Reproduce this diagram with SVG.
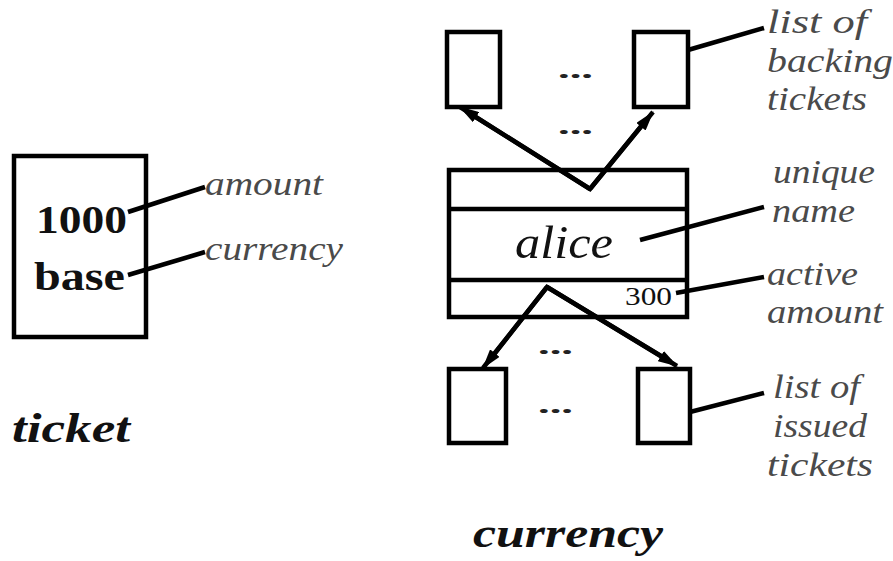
<svg xmlns="http://www.w3.org/2000/svg" width="893" height="561" viewBox="0 0 893 561">
  <style>
    .box { fill: none; stroke: #000; stroke-width: 4.5; }
    .lead { fill: none; stroke: #000; stroke-width: 4.5; stroke-linecap: butt; }
    .arrow { fill: none; stroke: #000; stroke-width: 4.5; marker-end: url(#head); }
    .label { font-family: "Liberation Serif", "Times New Roman", serif; font-style: italic; font-size: 34px; fill: #4a4a4a; }
    .value { font-family: "Liberation Serif", "Times New Roman", serif; font-weight: bold; font-size: 41px; fill: #111; }
    .title { font-family: "Liberation Serif", "Times New Roman", serif; font-weight: bold; font-style: italic; font-size: 42px; fill: #111; }
    .dots { font-family: "Liberation Serif", "Times New Roman", serif; font-weight: bold; font-size: 26px; fill: #222; }
  </style>
  <defs>
    <marker id="head" viewBox="0 0 20 12" refX="19" refY="6" markerWidth="20" markerHeight="12" markerUnits="userSpaceOnUse" orient="auto">
      <path d="M0,0 L20,6 L0,12 z" fill="#000"/>
    </marker>
  </defs>
  <rect width="893" height="561" fill="#fff"/>

  <!-- ticket record -->
  <g id="ticket">
    <rect class="box" x="14" y="156" width="132" height="181"/>
    <text class="value" x="36" y="233" textLength="91" lengthAdjust="spacingAndGlyphs">1000</text>
    <text class="value" x="34" y="290" textLength="91" lengthAdjust="spacingAndGlyphs">base</text>
    <text class="label" x="205" y="195" textLength="118" lengthAdjust="spacingAndGlyphs">amount</text>
    <text class="label" x="205" y="260" textLength="138" lengthAdjust="spacingAndGlyphs">currency</text>
    <text class="title" x="12" y="442" textLength="118" lengthAdjust="spacingAndGlyphs">ticket</text>
  </g>

  <!-- backing tickets -->
  <g id="backing-first">
    <rect class="box" x="447" y="32" width="53" height="75"/>
  </g>
  <g id="backing-last">
    <rect class="box" x="634" y="32" width="54" height="75"/>
  </g>
  <g id="backing-label">
    <text class="label" x="767" y="33" textLength="100" lengthAdjust="spacingAndGlyphs">list of</text>
    <text class="label" x="767" y="72" textLength="126" lengthAdjust="spacingAndGlyphs">backing</text>
    <text class="label" x="767" y="110" textLength="100" lengthAdjust="spacingAndGlyphs">tickets</text>
  </g>
  <g id="backing-dots">
    <text class="dots" x="558" y="78" textLength="35" lengthAdjust="spacingAndGlyphs">...</text>
    <text class="dots" x="558" y="134" textLength="35" lengthAdjust="spacingAndGlyphs">...</text>
  </g>

  <!-- currency record -->
  <g id="currency">
    <rect class="box" x="449" y="170" width="238" height="147"/>
    <line class="lead" x1="449" y1="209" x2="687" y2="209"/>
    <line class="lead" x1="449" y1="280" x2="687" y2="280"/>
    <text x="515" y="258" font-family="Liberation Serif, Times New Roman, serif" font-style="italic" font-size="46" fill="#111" textLength="98" lengthAdjust="spacingAndGlyphs">alice</text>
    <text x="625" y="305" font-family="Liberation Serif, Times New Roman, serif" font-size="26" fill="#111" textLength="47" lengthAdjust="spacingAndGlyphs">300</text>
  </g>
  <g id="currency-labels">
    <text class="label" x="773" y="183" textLength="102" lengthAdjust="spacingAndGlyphs">unique</text>
    <text class="label" x="772" y="222" textLength="83" lengthAdjust="spacingAndGlyphs">name</text>
    <text class="label" x="767" y="285" textLength="91" lengthAdjust="spacingAndGlyphs">active</text>
    <text class="label" x="767" y="323" textLength="116" lengthAdjust="spacingAndGlyphs">amount</text>
  </g>
  <g id="currency-title">
    <text class="title" x="473" y="547" textLength="190" lengthAdjust="spacingAndGlyphs">currency</text>
  </g>

  <!-- issued tickets -->
  <g id="issued-first">
    <rect class="box" x="449" y="369" width="57" height="74"/>
  </g>
  <g id="issued-last">
    <rect class="box" x="638" y="369" width="52" height="74"/>
  </g>
  <g id="issued-label">
    <text class="label" x="773" y="398" textLength="87" lengthAdjust="spacingAndGlyphs">list of</text>
    <text class="label" x="773" y="437" textLength="94" lengthAdjust="spacingAndGlyphs">issued</text>
    <text class="label" x="767" y="476" textLength="106" lengthAdjust="spacingAndGlyphs">tickets</text>
  </g>
  <g id="issued-dots">
    <text class="dots" x="538" y="354" textLength="35" lengthAdjust="spacingAndGlyphs">...</text>
    <text class="dots" x="538" y="413" textLength="35" lengthAdjust="spacingAndGlyphs">...</text>
  </g>

  <!-- connectors -->
  <g id="connectors">
    <line class="lead" x1="128" y1="212" x2="205" y2="187"/>
    <line class="lead" x1="128" y1="275" x2="205" y2="252"/>
    <line class="lead" x1="688" y1="50" x2="764" y2="28"/>
    <line class="lead" x1="640" y1="240" x2="764" y2="207"/>
    <line class="lead" x1="676" y1="293" x2="764" y2="277"/>
    <line class="lead" x1="690" y1="412" x2="764" y2="393"/>
    <polyline class="lead" points="466,111 590,189 647,119" stroke-linejoin="miter"/>
    <line class="arrow" x1="590" y1="189" x2="460" y2="107"/>
    <line class="arrow" x1="590" y1="189" x2="653" y2="112"/>
    <line class="arrow" x1="547" y1="287" x2="483" y2="368"/>
    <line class="arrow" x1="547" y1="287" x2="677" y2="366"/>
    <polyline class="lead" points="488,362 547,287 671,362" stroke-linejoin="miter"/>
  </g>
</svg>
